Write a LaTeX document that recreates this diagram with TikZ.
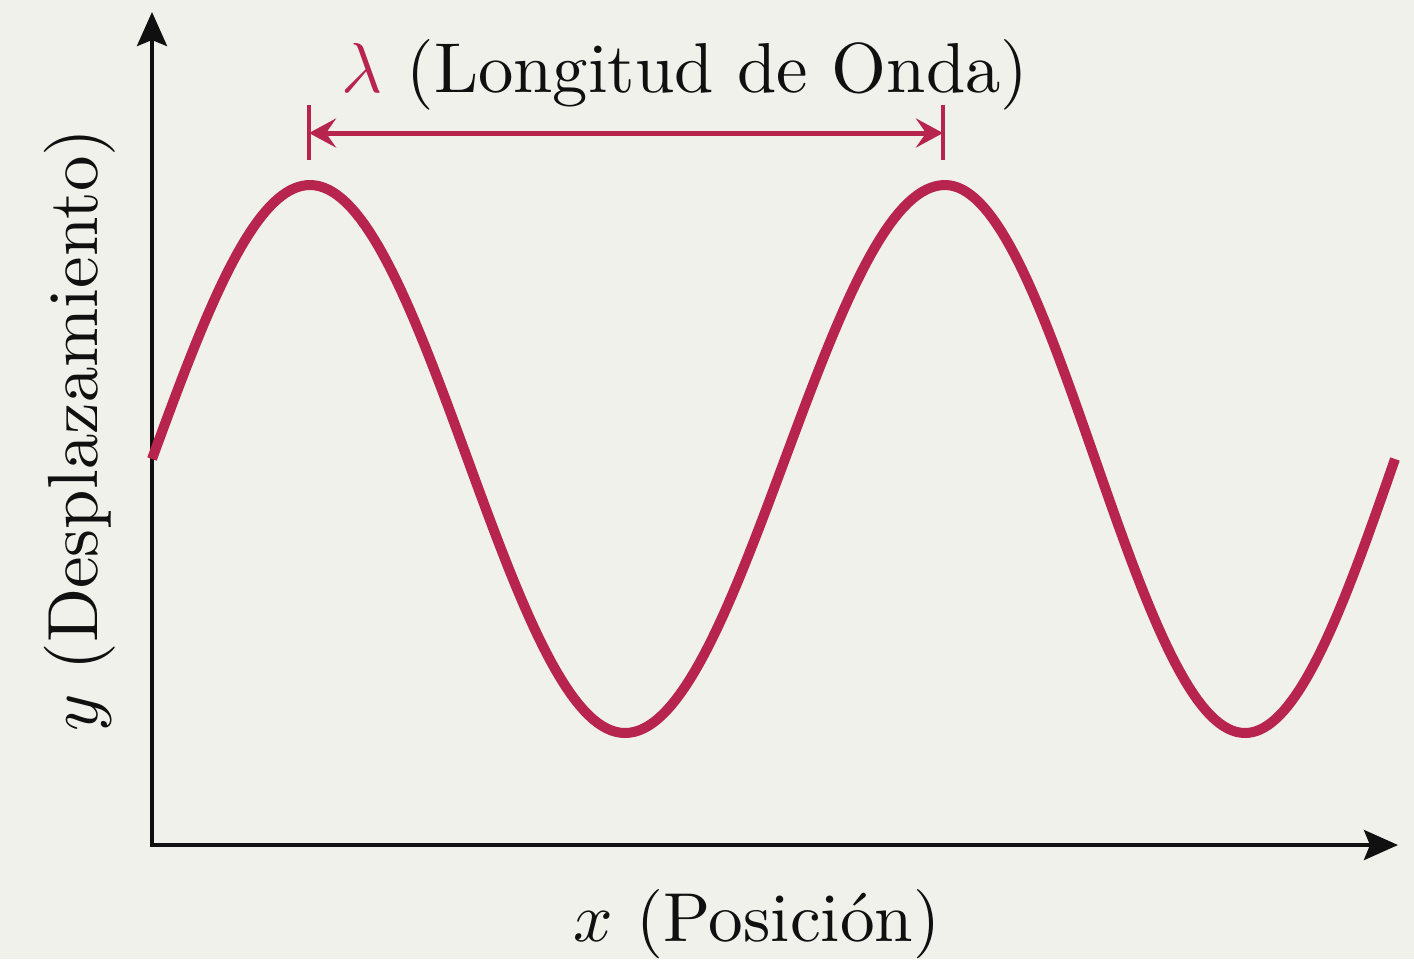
\documentclass[tikz,border=0pt]{standalone}
\usetikzlibrary{arrows.meta}
\definecolor{bgc}{RGB}{241,241,236}
\definecolor{wave}{RGB}{183,36,78}
\definecolor{ink}{RGB}{16,16,16}
\tikzset{
  axis/.style={draw=ink, line width=0.04cm, {Stealth[length=0.34cm,width=0.3cm,inset=0.06cm]}-{Stealth[length=0.34cm,width=0.3cm,inset=0.06cm]}},
  wavecurve/.style={draw=wave, line width=0.1cm, line cap=butt, line join=round},
  dimline/.style={draw=wave, line width=0.05cm, {Stealth[length=0.27cm,width=0.29cm,inset=0.1cm]}-{Stealth[length=0.27cm,width=0.29cm,inset=0.1cm]}},
  dimtick/.style={draw=wave, line width=0.04cm},
  lab/.style={text=ink, inner sep=0pt, anchor=base, font=\fontsize{10}{12}\selectfont, scale=1.97},
  toplab/.style={text=ink, inner sep=0pt, anchor=base, font=\fontsize{10}{12}\selectfont, scale=2.01}
}
\begin{document}
\begin{tikzpicture}[x=0.01cm, y=-0.01cm]
\fill[bgc] (0,0) rectangle (1414,959);
\useasboundingbox (0,0) rectangle (1414,959);
% axes
\coordinate (O) at (152,845);
\coordinate (ytip) at (152,12);
\coordinate (xtip) at (1398,845);
\draw[axis] (ytip) -- (O) -- (xtip);
% wave
\draw[wavecurve]
  plot[domain=152:310, samples=40] (\x, {459-274*sin((\x-152)/158*90)})
  -- plot[domain=310:625, samples=70] (\x, {459-274*cos((\x-310)/315*180)})
  -- plot[domain=625:945, samples=70] (\x, {459+274*cos((\x-625)/320*180)})
  -- plot[domain=945:1245, samples=70] (\x, {459-274*cos((\x-945)/300*180)})
  -- plot[domain=1245:1395, samples=40] (\x, {459+274*cos((\x-1245)/150*90)});
% wavelength marker
\coordinate (t1a) at (309,105);
\coordinate (t1b) at (309,160);
\coordinate (t2a) at (943,105);
\coordinate (t2b) at (943,160);
\coordinate (d1) at (309,133);
\coordinate (d2) at (943,133);
\draw[dimtick] (t1a) -- (t1b);
\draw[dimtick] (t2a) -- (t2b);
\draw[dimline] (d1) -- (d2);
\node[toplab] (lam) at (685,92) {\textcolor{wave}{$\lambda$} (Longitud de Onda)};
% axis labels
\node[lab] (xl) at (757,941) {$x$ (Posici\'on)};
\node[lab, rotate=90, scale=1.025] (yl) at (97,430) {$y$ (Desplazamiento)};
\end{tikzpicture}
\end{document}
